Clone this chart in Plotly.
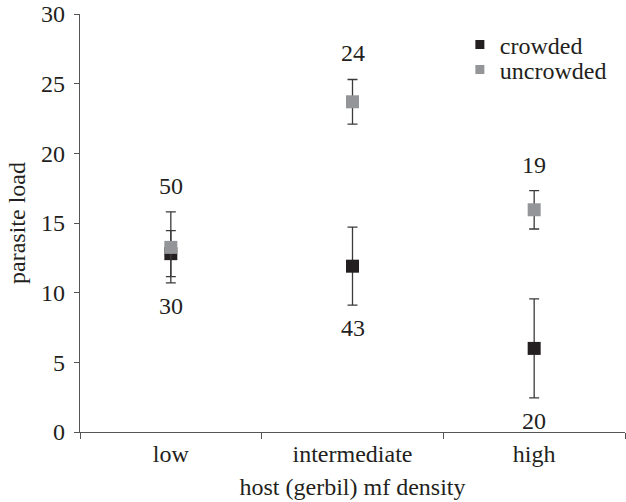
import plotly.graph_objects as go

categories = ["low", "intermediate", "high"]
crowded_mean = [12.8, 11.9, 6.0]
crowded_err = [1.65, 2.8, 3.55]
uncrowded_mean = [13.25, 23.7, 15.95]
uncrowded_err = [2.55, 1.6, 1.38]
n_above = ["50", "24", "19"]   # uncrowded sample sizes
n_below = ["30", "43", "20"]   # crowded sample sizes
y_ticks = [0, 5, 10, 15, 20, 25, 30]

FONT = "Times New Roman, Liberation Serif, Tinos, DejaVu Serif, serif"
BLACK = "#231f20"
GREY = "#939598"
BAR = "#3a3a3a"
FS = 24

fig = go.Figure()
fig.add_trace(go.Scatter(
    x=categories, y=crowded_mean, mode="markers", name="crowded", showlegend=False,
    marker=dict(symbol="square", size=13, color=BLACK),
    error_y=dict(type="data", array=crowded_err, color=BAR, thickness=1.3, width=5),
))
fig.add_trace(go.Scatter(
    x=categories, y=uncrowded_mean, mode="markers", name="uncrowded", showlegend=False,
    marker=dict(symbol="square", size=13, color=GREY),
    error_y=dict(type="data", array=uncrowded_err, color=BAR, thickness=1.3, width=5),
))
# legend entries (smaller symbols, as in the reference)
fig.add_trace(go.Scatter(x=[None], y=[None], mode="markers", name="crowded", legend="legend",
                         marker=dict(symbol="square", size=9, color=BLACK)))
fig.add_trace(go.Scatter(x=[None], y=[None], mode="markers", name="uncrowded", legend="legend2",
                         marker=dict(symbol="square", size=9, color=GREY)))

# sample-size labels, anchored to error-bar ends
tops = [max(c + ce, u + ue) for c, ce, u, ue in zip(crowded_mean, crowded_err, uncrowded_mean, uncrowded_err)]
bots = [min(c - ce, u - ue) for c, ce, u, ue in zip(crowded_mean, crowded_err, uncrowded_mean, uncrowded_err)]
for cat, t, b, ta, tb in zip(categories, tops, bots, n_above, n_below):
    fig.add_annotation(x=cat, y=t, text=ta, showarrow=False, yshift=26,
                       font=dict(family=FONT, size=FS, color="#231f20"))
    fig.add_annotation(x=cat, y=b, text=tb, showarrow=False, yshift=-23,
                       font=dict(family=FONT, size=FS, color="#231f20"))

legend_common = dict(xanchor="left", yanchor="middle", bgcolor="rgba(0,0,0,0)",
                     itemwidth=30, font=dict(family=FONT, size=FS))
fig.update_layout(
    width=626, height=502,
    margin=dict(l=80, r=1, t=14, b=70, autoexpand=False),
    paper_bgcolor="white", plot_bgcolor="white",
    font=dict(family=FONT, size=FS, color="#231f20"),
    showlegend=True,
    legend=dict(x=0.697, y=0.926, **legend_common),
    legend2=dict(x=0.697, y=0.866, **legend_common),
)
fig.update_xaxes(
    type="category", range=[-0.5, 2.5], tickson="boundaries", automargin=False,
    showline=True, linecolor="#555555", linewidth=1.3,
    ticks="outside", ticklen=6, tickcolor="#555555", tickwidth=1.3,
    showgrid=False, zeroline=False,
    tickfont=dict(family=FONT, size=FS),
    title=dict(text="host (gerbil) mf density", font=dict(family=FONT, size=FS), standoff=12),
)
fig.update_yaxes(
    range=[0, 30], tickvals=y_ticks, automargin=False,
    showline=True, linecolor="#555555", linewidth=1.3,
    ticks="outside", ticklen=5, tickcolor="#555555", tickwidth=1.3,
    ticklabelstandoff=4,
    showgrid=False, zeroline=False,
    tickfont=dict(family=FONT, size=FS),
    title=dict(text="parasite load", font=dict(family=FONT, size=FS), standoff=8),
)

fig.write_html("out.html", config={"displayModeBar": False},
               post_script="document.body.style.margin='0';")
